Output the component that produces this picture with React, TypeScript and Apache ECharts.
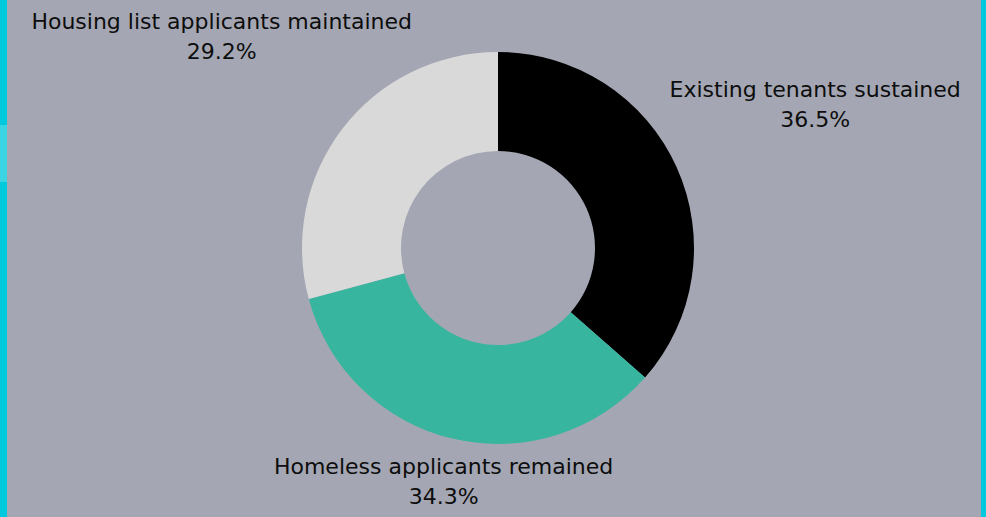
import React, { useEffect, useRef } from "react";
import * as echarts from "echarts";

const categories = [
  "Existing tenants sustained",
  "Homeless applicants remained",
  "Housing list applicants maintained",
];
const values = [36.5, 34.3, 29.2];
const colors = ["#000000", "#38b59e", "#d9d9d9"];

const W = 986;
const H = 517;
const CX = 498;
const CY = 248;
const R_OUT = 196;
const R_IN = 97;
const LABEL_R = 348;
const BOTTOM_PAD = 6;
const FONT = "DejaVu Sans";
const FONT_SIZE = 22;

export default function App() {
  const ref = useRef<HTMLDivElement>(null);
  useEffect(() => {
    const chart = echarts.init(ref.current!, null, { renderer: "svg" });
    const total = values.reduce((a, b) => a + b, 0);
    const mids: number[] = [];
    let cum = 0;
    values.forEach((v) => {
      mids.push(((cum + v / 2) / total) * Math.PI * 2);
      cum += v;
    });
    chart.setOption({
      animation: false,
      backgroundColor: "#a4a7b3",
      graphic: [
        { type: "rect", left: 0, top: 0, shape: { width: 7, height: H }, style: { fill: "#00c9dd" } },
        { type: "rect", left: 0, top: 125, shape: { width: 7, height: 57 }, style: { fill: "#3ad4e2" } },
        { type: "rect", right: 0, top: 0, shape: { width: 5, height: H }, style: { fill: "#00c9dd" } },
      ],
      series: [
        {
          type: "pie",
          center: [CX, CY],
          radius: [R_IN, R_OUT],
          startAngle: 90,
          clockwise: true,
          avoidLabelOverlap: false,
          itemStyle: { borderWidth: 0 },
          label: {
            show: true,
            position: "outside",
            formatter: "{t|{b}}\n{t|{c}%}",
            color: "#0d0d0d",
            fontFamily: FONT,
            fontSize: FONT_SIZE,
            lineHeight: 30,
            rich: {
              t: {
                align: "center",
                color: "#0d0d0d",
                fontFamily: FONT,
                fontSize: FONT_SIZE,
                lineHeight: 30,
              },
            },
          },
          labelLine: { show: false },
          labelLayout: (p: any) => {
            const a = mids[p.dataIndex];
            const dx = Math.sin(a);
            const dy = -Math.cos(a);
            const h = p.labelRect ? p.labelRect.height : 60;
            let r = LABEL_R;
            if (dy > 0 && CY + r * dy + h / 2 > H - BOTTOM_PAD) {
              r = (H - BOTTOM_PAD - h / 2 - CY) / dy;
            }
            return {
              x: CX + r * dx,
              y: CY + r * dy,
              align: "center",
              verticalAlign: "middle",
            };
          },
          data: categories.map((name, i) => ({
            name,
            value: values[i],
            itemStyle: { color: colors[i] },
          })),
        },
      ],
    });
    return () => chart.dispose();
  }, []);
  return (
    <div
      ref={ref}
      style={{ position: "fixed", left: 0, top: 0, width: W, height: H }}
    />
  );
}
